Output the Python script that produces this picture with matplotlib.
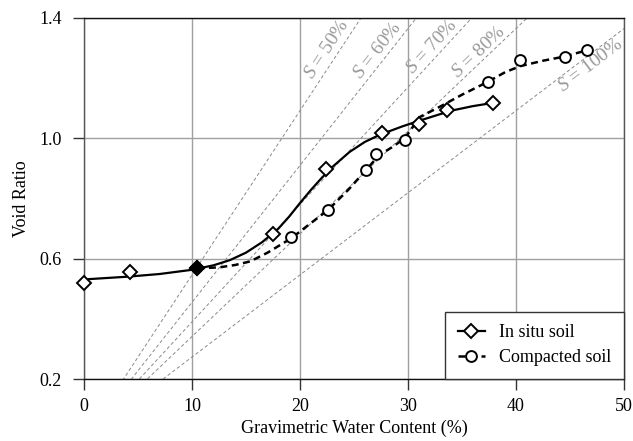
import numpy as np
import matplotlib
matplotlib.use("Agg")
import matplotlib.pyplot as plt
from matplotlib.lines import Line2D

plt.rcParams['font.family'] = ['Liberation Serif', 'DejaVu Serif']
plt.rcParams['mathtext.fontset'] = 'custom'
plt.rcParams['mathtext.it'] = 'Liberation Serif:italic'
plt.rcParams['mathtext.rm'] = 'Liberation Serif'

# ---------------- data ----------------
insitu_w = [0.0, 4.3, 10.5, 17.5, 22.4, 27.6, 31.0, 33.6, 37.9]
insitu_e = [0.518, 0.557, 0.568, 0.682, 0.898, 1.019, 1.049, 1.093, 1.118]

compact_w = [19.2, 22.6, 26.1, 27.0, 29.7, 37.4, 40.4, 44.5, 46.6]
compact_e = [0.673, 0.762, 0.896, 0.949, 0.996, 1.188, 1.260, 1.271, 1.293]

# common starting point (filled marker)
start_w = [10.5]
start_e = [0.568]

# trend curve of in situ soil
insitu_fit_w = [0.0, 4.0, 7.0, 10.0, 12.0, 13.5, 15.0, 16.5, 18.0, 19.0, 20.0, 21.0,
                22.0, 23.0, 24.6, 26.0, 27.4, 29.5, 31.0, 32.5, 34.0, 36.0, 37.9]
insitu_fit_e = [0.531, 0.540, 0.549, 0.563, 0.578, 0.595, 0.620, 0.655, 0.700, 0.740,
                0.785, 0.828, 0.868, 0.905, 0.955, 0.988, 1.012, 1.040, 1.058, 1.075,
                1.092, 1.107, 1.118]

# trend curve of compacted soil
compact_fit_w = [10.5, 12.5, 14.0, 15.4, 17.0, 19.2, 21.0, 22.6, 24.5, 26.0, 27.3,
                 28.5, 29.7, 31.1, 33.0, 35.0, 37.4, 39.0, 40.4, 42.5, 44.5, 46.6]
compact_fit_e = [0.568, 0.571, 0.579, 0.591, 0.620, 0.668, 0.718, 0.762, 0.830, 0.890,
                 0.943, 0.970, 1.000, 1.071, 1.106, 1.145, 1.188, 1.220, 1.240, 1.258,
                 1.272, 1.293]

# saturation lines e = Gs * w / S
Gs = 2.73
sat_levels = [50, 60, 70, 80, 100]
sat_labels = ['$S$ = 50%', '$S$ = 60%', '$S$ = 70%', '$S$ = 80%', '$S$ = 100%']
sat_label_w = [22.5, 27.2, 32.2, 36.6, 46.9]
sat_label_e = [1.297, 1.293, 1.303, 1.287, 1.243]

xticks = [0, 10, 20, 30, 40, 50]
yticks = [0.2, 0.6, 1.0, 1.4]

# ---------------- figure ----------------
fig = plt.figure(figsize=(6.33, 4.41), dpi=100)
L, R, B, T = 84 / 633, 624 / 633, (441 - 379) / 441, (441 - 18) / 441
ax = fig.add_axes([L, B, R - L, T - B])
ax.set_xlim(0, 50)
ax.set_ylim(0.2, 1.4)

ax.set_xticks(xticks)
ax.set_yticks(yticks)
ax.set_yticklabels(['0.2', '0.6', '1.0', '1.4'])
ax.grid(True, color='#a0a0a0', linewidth=1.0)
ax.set_axisbelow(True)
ax.tick_params(axis='both', direction='out', length=8, width=1.0, labelsize=13,
               color='#333333')
ax.tick_params(axis='x', pad=6)
ax.tick_params(axis='y', pad=8)
for side in ['top', 'bottom']:
    ax.spines[side].set_color('#111111')
    ax.spines[side].set_linewidth(1.0)
for side in ['left', 'right']:
    ax.spines[side].set_color('#555555')
    ax.spines[side].set_linewidth(1.0)

# saturation lines
wline = np.linspace(0.01, 50, 200)
for S in sat_levels:
    ax.plot(wline, Gs * wline / S, color='#8a8a8a', linestyle=(0, (3.5, 2.5)),
            linewidth=0.7, zorder=1)

fig.canvas.draw()
for S, lab, lw, le in zip(sat_levels, sat_labels, sat_label_w, sat_label_e):
    p0 = ax.transData.transform((10, Gs * 10 / S))
    p1 = ax.transData.transform((20, Gs * 20 / S))
    ang = np.degrees(np.arctan2(p1[1] - p0[1], p1[0] - p0[0]))
    ax.text(lw, le, lab, rotation=ang, rotation_mode='anchor', ha='center',
            va='center', fontsize=14, color='#9a9a9a', zorder=2)

# trend curves
ax.plot(insitu_fit_w, insitu_fit_e, color='black', linewidth=1.6, zorder=3)
ax.plot(compact_fit_w, compact_fit_e, color='black', linewidth=1.8,
        linestyle=(0, (2.8, 1.8)), zorder=3)

# markers
ax.plot(insitu_w, insitu_e, linestyle='none', marker='D', markersize=7,
        markerfacecolor='white', markeredgecolor='black', markeredgewidth=1.4,
        zorder=4, clip_on=False)
ax.plot(compact_w, compact_e, linestyle='none', marker='o', markersize=7.8,
        markerfacecolor='white', markeredgecolor='black', markeredgewidth=1.4,
        zorder=4, clip_on=False)
ax.plot(start_w, start_e, linestyle='none', marker='D', markersize=7,
        markerfacecolor='black', markeredgecolor='black', markeredgewidth=1.4, zorder=5)

ax.set_xlabel('Gravimetric Water Content (%)', fontsize=13)
ax.set_ylabel('Void Ratio', fontsize=13)
ax.xaxis.set_label_coords(0.5, -0.112)
ax.yaxis.set_label_coords(-0.10, 0.5)

handles = [
    Line2D([], [], color='black', linewidth=1.6, marker='D', markersize=7,
           markerfacecolor='white', markeredgecolor='black', markeredgewidth=1.4),
    Line2D([], [], color='black', linewidth=1.8, linestyle=(0, (2.8, 1.8)), marker='o',
           markersize=7.8, markerfacecolor='white', markeredgecolor='black',
           markeredgewidth=1.4),
]
leg = ax.legend(handles, ['In situ soil', 'Compacted soil'], loc='lower right',
                bbox_to_anchor=(1.0, 0.0), borderaxespad=0.0, fontsize=13,
                frameon=True, fancybox=False, handlelength=1.5, handletextpad=0.8,
                borderpad=0.7, labelspacing=0.45, numpoints=1)
leg.get_frame().set_edgecolor('#333333')
leg.get_frame().set_linewidth(1.0)
leg.get_frame().set_alpha(1.0)
leg.set_zorder(10)

fig.savefig('out.png', dpi=100)
